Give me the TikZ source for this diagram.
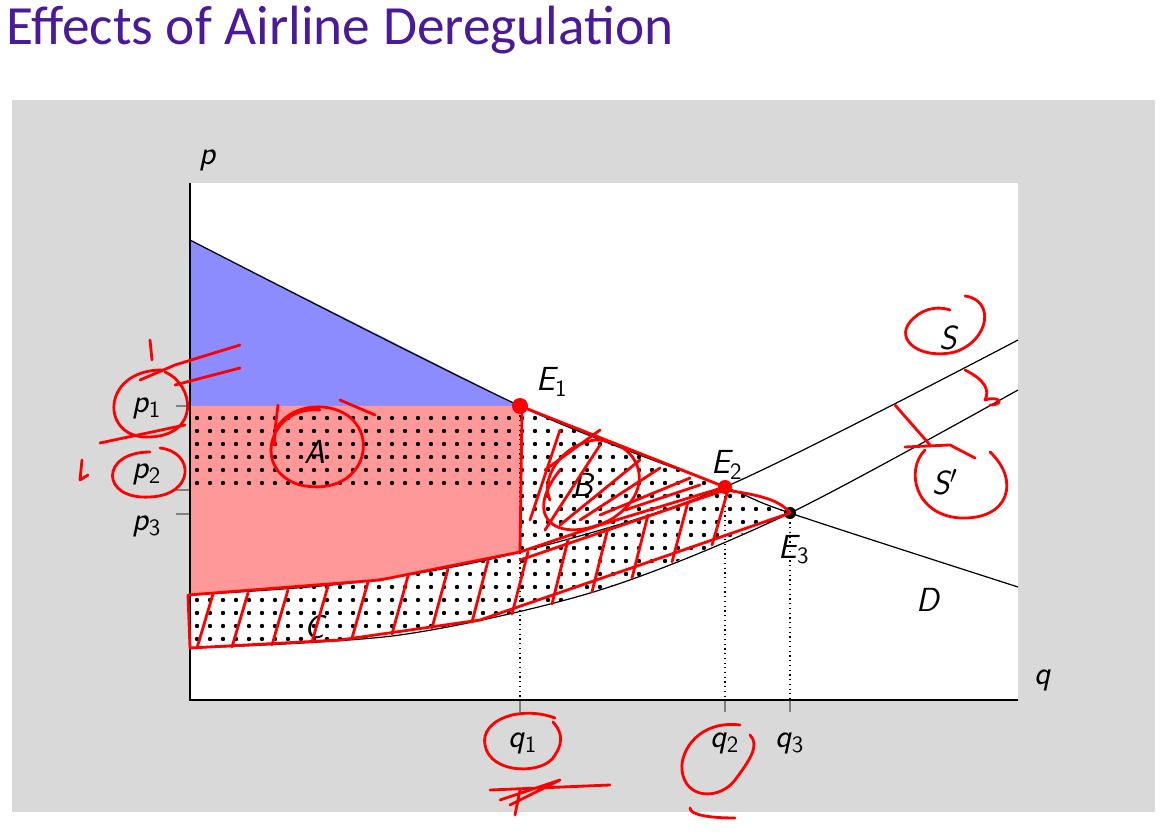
\documentclass[tikz,border=0pt]{standalone}
\usepackage{fontspec}
\newfontfamily\titlefont{Carlito}
\newcommand{\sbs}[1]{\textsubscript{\upshape #1}}
\begin{document}
\begin{tikzpicture}[x=0.02cm,y=-0.02cm,
  lbl/.style={font=\fontsize{19}{21}\selectfont\sffamily\itshape, inner sep=0pt},
  ann/.style={draw=red, line width=1.6pt, line cap=round, line join=round},
  curve/.style={line width=0.7pt},
  guide/.style={dotted, line width=0.7pt}]
\definecolor{titlecol}{HTML}{4A1A9A}
\useasboundingbox (0,0) rectangle (1174,834);
\fill[white] (0,0) rectangle (1174,834);
\node[anchor=west, text=titlecol, font=\titlefont\fontsize{31.5}{34}\selectfont] (title) at (0,30) {Effects of Airline Deregulation};
\fill[black!15] (12,100) rectangle (1155,812);
\fill[white] (190,183) rectangle (1018,700);
\fill[blue!45!white] (190,240) -- (520,406) -- (190,406) -- cycle;
\fill[red!40!white] (190,406) -- (520,406) -- plot[smooth] coordinates {(520,552)(360,582)(190,595)} -- cycle;
\begin{scope}
\clip (190,406) rectangle (520,487);
\foreach \i in {0,...,25} \foreach \j in {0,...,5} \fill (197+13*\i,418+13*\j) circle (2.2);
\end{scope}
\begin{scope}
\clip plot[smooth] coordinates {(520,406)(725,487)(790,513)}
  -- plot[smooth] coordinates {(790,513)(600,590)(400,635)(190,648)}
  -- (190,595) -- plot[smooth] coordinates {(190,595)(360,582)(520,552)} -- cycle;
\fill[white] (190,400) rectangle (800,660);
\foreach \i in {0,...,46} \foreach \j in {0,...,18} \fill (197+13*\i,418+13*\j) circle (2.2);
\end{scope}
\draw[guide] (520,406) -- (520,712);
\draw[guide] (725,487) -- (725,712);
\draw[guide] (790,513) -- (790,712);
\draw[black!50, line width=0.6pt] (520,700) -- (520,712) (725,700) -- (725,712) (790,700) -- (790,712);
\draw[black!50, line width=0.6pt] (176,406) -- (190,406) (176,490) -- (190,490) (176,514) -- (190,514);
\draw[curve] plot[smooth] coordinates {(190,240)(520,406)(725,487)(790,513)(1018,587)};
\draw[curve] plot[smooth] coordinates {(190,595)(360,582)(520,552)(725,487)(1018,340)};
\draw[curve] plot[smooth] coordinates {(190,648)(400,635)(600,590)(790,513)(1018,390)};
\draw[line width=0.9pt] (190,183) -- (190,700) -- (1018,700);
\fill (790,513) circle (6);
\node[lbl] (p) at (208,160) {p};
\node[lbl] (q) at (1043,680) {q};
\node[lbl] (q1) at (523,743) {q\sbs{1}};
\node[lbl] (q2) at (725,743) {q\sbs{2}};
\node[lbl] (q3) at (790,743) {q\sbs{3}};
\node[lbl] (p1) at (147,408) {p\sbs{1}};
\node[lbl] (p2) at (147,474) {p\sbs{2}};
\node[lbl] (p3) at (147,526) {p\sbs{3}};
\node[lbl] (E1) at (552,382) {E\sbs{1}};
\node[lbl] (E2) at (727,465) {E\sbs{2}};
\node[lbl] (E3) at (794,550) {E\sbs{3}};
\node[lbl] (A) at (315,452) {A};
\node[lbl] (B) at (583,485) {B};
\node[lbl] (C) at (315,627) {C};
\node[lbl] (D) at (928,600) {D};
\node[lbl] (S) at (948,338) {S};
\node[lbl] (Sp) at (945,482) {S$'$};
\fill[red] (520,406) circle (8);
\fill[red] (725,487) circle (7);
\draw[ann] (162,370) .. controls (100,370) and (100,440) .. (150,437) .. controls (200,435) and (195,385) .. (165,372);
\draw[ann] (100,443) -- (185,425) (152,360) -- (150,340) (140,380) -- (175,365) -- (240,345) (175,385) -- (240,368);
\draw[ann] (82,460) -- (80,480) -- (88,475);
\draw[ann] (150,452) .. controls (100,452) and (100,500) .. (150,497) .. controls (195,495) and (195,452) .. (160,448);
\draw[ann] (320,410) .. controls (270,405) and (250,470) .. (300,485) .. controls (370,500) and (385,420) .. (330,408) .. controls (300,402) and (270,420) .. (275,445);
\draw[ann] (278,405) -- (275,430) (340,400) -- (375,415);
\draw[ann] (520,406) -- (725,487) -- (600,525) -- (520,552) -- (522,410);
\draw[ann] (520,560) -- (725,490) .. controls (760,495) and (780,500) .. (790,513) -- (640,565) -- (480,620) -- (340,640) -- (190,648) -- (188,595) -- (380,580) -- (520,552);
\foreach \x/\yb/\yt in {205/648/594,240/647/593,280/645/590,320/642/586,360/638/582,400/634/576,440/628/569,480/622/561,520/614/552,560/604/540,600/592/528,640/578/515,680/562/502,720/545/490}
  \draw[ann] (\x-8,\yb) -- (\x+8,\yt);
\foreach \a/\b/\c/\d in {530/520/560/430,545/530/600/445,560/525/640/460,580/520/660/468,600/515/690/478,625/510/700/485,545/470/600/430}
  \draw[ann] (\a,\b) -- (\c,\d);
\draw[ann] (560,470) .. controls (520,520) and (560,545) .. (610,520) .. controls (660,490) and (640,440) .. (595,440) .. controls (560,445) and (540,480) .. (550,500);
\draw[ann] (965,296) .. controls (995,300) and (990,340) .. (955,352) .. controls (920,360) and (895,340) .. (910,322) .. controls (920,310) and (935,305) .. (950,310);
\draw[ann] (965,370) .. controls (985,380) and (990,390) .. (985,400) .. controls (1000,395) and (1005,405) .. (990,405);
\draw[ann] (895,405) -- (930,445);
\draw[ann] (905,447) -- (950,445) -- (975,458);
\draw[ann] (990,452) .. controls (1020,480) and (1010,520) .. (960,518) .. controls (915,515) and (905,470) .. (925,450);
\draw[ann] (555,718) .. controls (520,705) and (480,720) .. (485,745) .. controls (490,775) and (545,775) .. (555,755) .. controls (565,740) and (560,730) .. (553,722);
\draw[ann] (490,790) -- (610,785) (500,800) -- (560,780) -- (510,805) (520,790) -- (515,815);
\draw[ann] (740,725) .. controls (700,720) and (680,750) .. (682,770) .. controls (685,800) and (720,800) .. (735,780) .. controls (750,760) and (760,745) .. (750,735);
\draw[ann] (690,808) .. controls (690,815) and (710,818) .. (735,818);
\end{tikzpicture}
\end{document}
